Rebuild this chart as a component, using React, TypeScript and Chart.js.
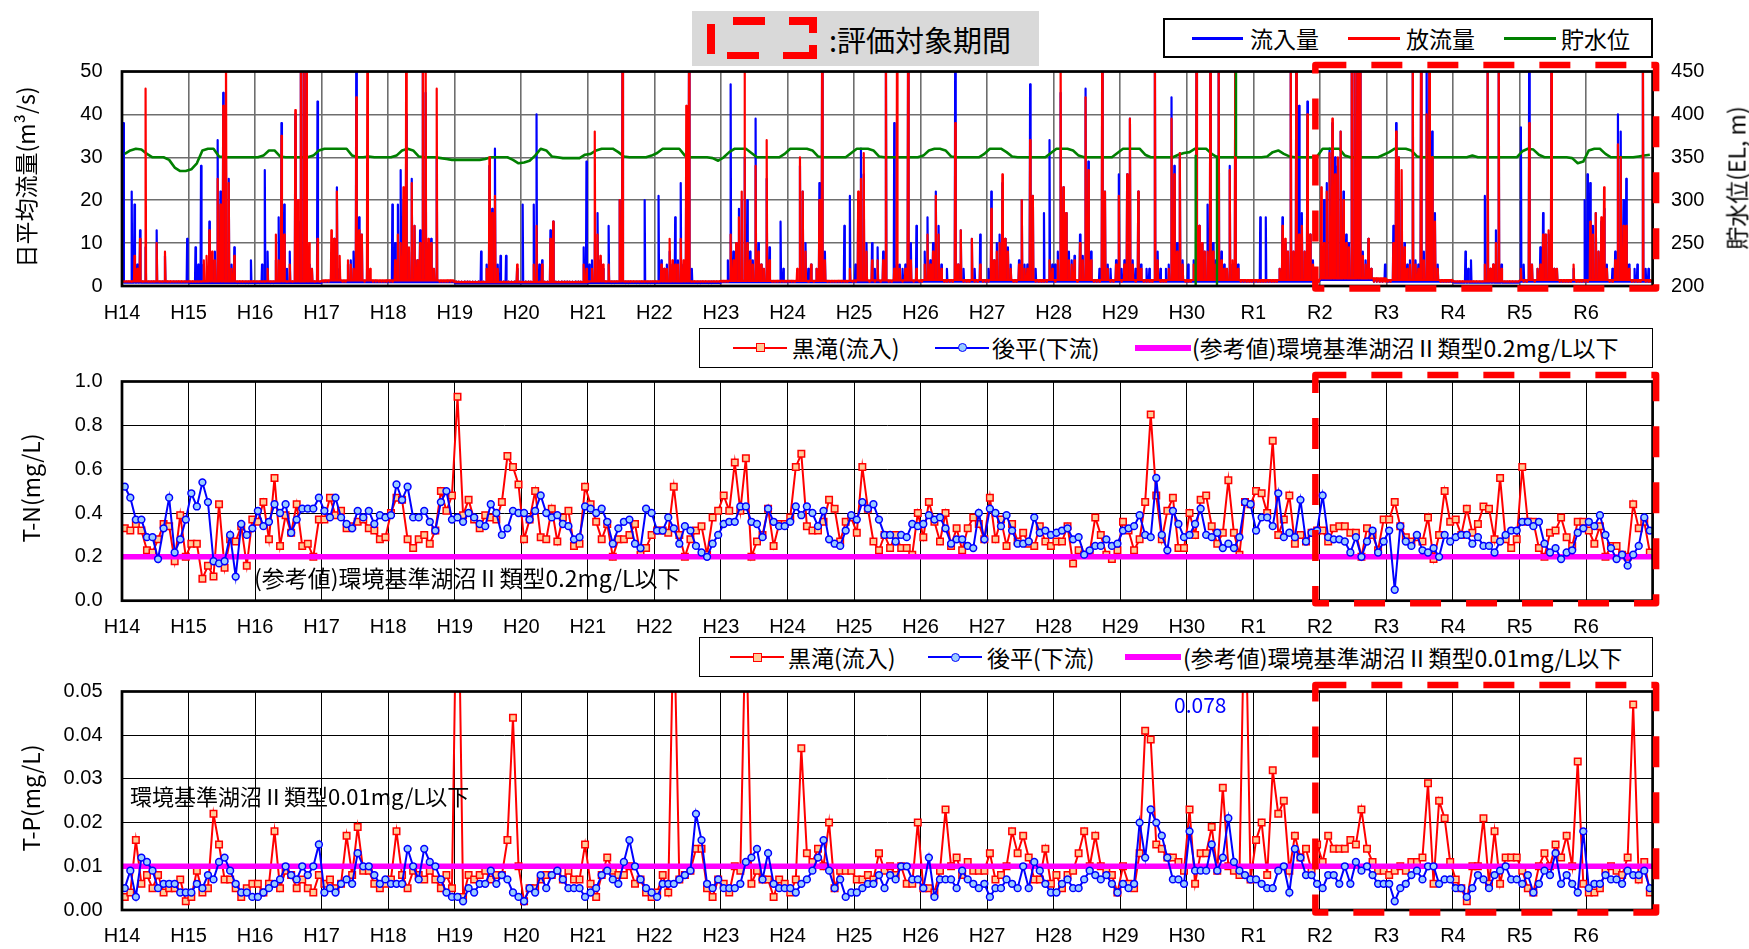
import React, { useEffect, useRef } from "react";
import { Chart, registerables } from "chart.js";

Chart.register(...registerables);

// ---------------- DATA ----------------
const yearLabels = ["H14","H15","H16","H17","H18","H19","H20","H21","H22","H23","H24","H25","H26","H27","H28","H29","H30","R1","R2","R3","R4","R5","R6"];
const evalStartLabel = "R2";

const flowTicks = [0, 10, 20, 30, 40, 50];
const levelTicks = [200, 250, 300, 350, 400, 450];
const tnTicks = [0, 0.2, 0.4, 0.6, 0.8, 1.0];
const tpTicks = [0, 0.01, 0.02, 0.03, 0.04, 0.05];

// daily mean inflow (m3/s): peak of each half-month, per fiscal year
const inflowByYear = [
  [38,1,1,22,19,5,13,1,9,1,1,1,13,1,1,7,1,1,1,1,1,1,1,11],
  [1,1,9,5,28,5,1,15,6,8,34,22,45,30,25,5,9,1,1,1,1,1,6,1],
  [1,1,5,27,8,1,1,6,16,38,19,4,8,1,40,15,60,55,60,5,4,1,43,1],
  [1,1,1,6,11,23,4,1,1,5,6,8,60,16,12,1,10,1,1,1,1,1,1,1],
  [1,19,10,19,27,20,40,8,25,14,6,13,60,45,10,11,4,30,1,1,1,1,1,1],
  [1,1,1,1,1,1,1,1,1,8,1,5,28,18,32,5,7,1,7,1,1,1,4,1],
  [19,1,1,1,19,40,5,6,1,1,13,15,1,1,1,1,1,1,1,1,1,1,9,29],
  [5,6,10,17,6,4,1,14,1,1,1,20,60,1,1,1,1,1,1,1,20,1,1,1],
  [1,21,6,4,5,8,5,16,6,24,5,30,60,4,1,1,1,1,1,1,1,1,1,1],
  [1,1,6,47,8,10,18,20,30,20,8,6,39,10,5,4,25,9,1,1,1,15,4,1],
  [1,1,1,1,28,22,10,4,5,1,4,24,60,8,1,1,1,1,1,1,14,1,21,1],
  [5,20,32,26,10,1,10,4,9,1,8,55,1,1,38,5,5,4,5,60,10,1,14,1],
  [1,8,16,6,10,22,14,5,1,4,1,1,60,5,13,4,1,1,11,4,1,12,1,1],
  [4,22,6,10,12,24,11,9,5,1,1,6,20,5,5,47,21,4,1,1,17,1,34,5],
  [5,8,45,23,17,8,6,7,1,12,7,46,29,8,1,1,4,50,22,5,4,1,6,26],
  [4,6,26,39,6,4,22,5,1,4,4,1,60,8,4,1,4,5,44,28,10,31,6,1],
  [5,1,6,55,14,10,8,19,60,10,6,60,8,5,4,28,5,60,5,1,1,1,1,1],
  [1,1,16,1,16,1,1,1,1,4,16,10,8,55,8,60,42,17,8,43,12,6,4,1],
  [4,20,24,32,38,30,28,36,22,12,10,60,60,60,60,8,6,11,4,1,1,1,1,5],
  [1,1,14,38,30,20,10,5,6,55,6,5,60,8,60,60,36,17,5,1,1,1,1,1],
  [1,1,1,1,8,4,6,1,1,1,1,21,55,4,5,13,55,5,1,1,1,1,1,1],
  [37,5,1,60,5,1,4,9,17,12,12,55,4,4,1,1,1,1,1,4,1,1,1,20],
  [26,24,14,17,8,15,18,5,1,4,8,40,36,20,25,5,1,4,5,1,55,4,4,1],
];
// low-flow (base) level of the inflow between events, per fiscal year
const inflowBase = [0.8,0.7,0.7,0.9,0.9,0.6,0.6,0.7,0.7,0.9,0.9,0.9,1.0,1.0,1.0,1.0,1.0,1.0,1.4,1.0,0.8,1.0,1.0];

// daily mean outflow (m3/s): peak of each half-month
const outflowByYear = [
  [1,1,1,1,7,4,11,1,46,1,1,1,10,1,1,8,1,1,1,1,1,1,1,1],
  [1,1,1,1,1,6,7,13,8,6,25,19,42,60,24,4,7,1,1,1,1,1,1,1],
  [1,1,1,1,4,1,1,12,6,35,12,1,5,1,41,20,60,60,60,10,4,1,11,1],
  [1,1,1,13,11,22,7,1,1,6,5,4,44,13,12,1,60,4,1,1,1,1,1,1],
  [1,1,6,12,10,23,60,9,24,14,6,10,60,60,11,10,4,46,1,1,1,1,1,1],
  [1,1,1,1,1,1,1,1,1,1,1,4,30,17,21,4,1,1,1,1,1,1,5,1],
  [1,1,1,1,5,14,1,5,1,1,11,15,1,1,1,1,1,1,1,1,1,1,5,4],
  [1,4,36,12,7,5,1,5,1,1,1,20,60,1,1,1,1,1,1,1,1,1,1,1],
  [1,1,5,4,4,11,6,5,5,11,6,42,60,1,1,1,1,1,1,1,1,1,1,1],
  [1,1,1,12,6,10,16,22,60,10,6,5,28,8,5,4,34,6,1,1,1,1,1,1],
  [1,1,1,4,30,22,8,1,5,1,4,20,60,6,1,1,1,1,1,1,1,1,4,1],
  [1,22,25,31,8,1,6,1,6,1,6,60,1,1,4,60,4,1,4,60,6,1,4,1],
  [1,5,12,5,8,21,12,4,1,1,1,1,38,5,13,1,1,1,11,1,1,5,1,1],
  [1,18,6,8,10,26,11,8,4,1,1,5,20,4,4,34,21,1,1,1,1,1,6,4],
  [1,6,60,23,17,6,5,6,1,10,6,44,27,6,1,1,1,60,22,4,1,1,5,21],
  [1,5,26,39,5,1,22,4,1,1,1,1,60,6,1,1,1,4,39,26,8,31,5,1],
  [1,1,5,60,14,10,8,8,60,8,5,60,6,4,4,27,6,60,4,1,1,1,1,1],
  [1,1,1,1,1,1,1,1,1,4,14,11,8,60,8,60,12,14,8,40,12,5,1,1],
  [23,10,22,31,39,26,30,36,20,10,9,60,60,60,60,7,5,11,4,1,1,1,1,1],
  [1,1,10,36,30,27,9,4,5,60,5,4,60,6,40,60,30,15,4,1,1,1,1,1],
  [1,1,1,1,1,1,1,1,1,1,1,5,60,4,5,10,60,4,1,1,1,1,1,1],
  [4,1,1,38,5,1,4,5,12,12,13,60,4,4,1,1,1,1,1,5,1,1,1,1],
  [1,15,12,17,8,16,23,4,1,1,6,33,30,14,14,4,1,1,1,1,60,1,1,1],
];
// low-flow (base) level of the outflow between events, per fiscal year
const outflowBase = [1.1,1.1,1.1,1.3,1.3,0.9,0.9,1.1,1.1,1.2,1.2,1.3,1.4,1.4,1.4,1.4,1.4,1.4,1.8,1.4,1.1,1.4,1.4];

// reservoir water level (EL.m), monthly Apr..Mar
const levelByYear = [
  [354,358,360,359,354,350,350,350,347,338,334,334],
  [336,343,358,360,360,351,350,350,350,350,350,350],
  [350,352,358,358,351,350,350,350,350,350,352,358],
  [360,360,360,360,360,352,350,350,351,350,350,350],
  [350,352,358,360,358,351,350,350,350,349,348,347],
  [347,347,347,347,347,348,350,350,350,350,347,343],
  [344,346,352,360,358,351,350,349,349,349,349,353],
  [354,358,360,360,360,356,351,350,350,350,350,352],
  [355,360,360,360,360,352,350,350,350,350,349,346],
  [350,356,360,360,360,355,350,350,350,350,350,354],
  [360,360,360,360,358,351,350,350,350,350,350,355],
  [360,360,360,358,351,350,350,350,350,350,350,350],
  [352,358,360,360,358,351,350,350,350,350,350,354],
  [360,360,360,356,351,350,350,350,350,350,350,355],
  [360,360,360,358,352,350,350,350,350,350,350,355],
  [360,360,360,360,353,350,350,350,350,350,353,355],
  [356,360,360,360,354,350,350,350,350,350,350,350],
  [350,350,351,356,358,354,351,350,350,350,350,351],
  [360,360,360,360,352,350,350,350,350,350,350,353],
  [356,360,360,360,358,351,350,350,350,350,350,350],
  [350,350,350,352,350,350,350,350,350,350,350,350],
  [357,360,359,353,350,350,350,350,350,349,343,345],
  [358,360,360,354,350,350,350,350,350,351,352,353],
];
// single-day recording glitches of the water level: time (years from H14), level before, glitch value
const levelGlitchTime = [16.134, 16.454, 16.74];
const levelGlitchBase = [352, 351, 351];
const levelGlitchValue = [195, 195, 460];

// T-N (mg/L), monthly
const tnKurotaki = [
  [0.33,0.32,0.35,0.32,0.23,0.22,0.28,0.35,0.34,0.18,0.39,0.20],
  [0.26,0.26,0.10,0.16,0.11,0.44,0.15,0.28,0.27,0.34,0.16,0.37],
  [0.36,0.45,0.28,0.56,0.25,0.39,0.31,0.44,0.25,0.26,0.20,0.37],
  [0.37,0.47,0.39,0.41,0.33,0.34,0.36,0.37,0.33,0.32,0.28,0.29],
  [0.40,0.47,0.46,0.28,0.24,0.28,0.30,0.26,0.32,0.50,0.41,0.48],
  [0.93,0.39,0.46,0.37,0.33,0.39,0.38,0.37,0.45,0.66,0.61,0.53],
  [0.28,0.37,0.50,0.29,0.28,0.42,0.27,0.38,0.41,0.25,0.26,0.52],
  [0.44,0.36,0.28,0.35,0.20,0.28,0.28,0.30,0.35,0.21,0.24,0.30],
  [0.32,0.32,0.31,0.52,0.30,0.20,0.28,0.32,0.34,0.21,0.38,0.41],
  [0.48,0.41,0.63,0.41,0.65,0.20,0.27,0.30,0.42,0.25,0.35,0.35],
  [0.38,0.61,0.67,0.34,0.32,0.32,0.36,0.46,0.42,0.27,0.36,0.38],
  [0.31,0.61,0.42,0.27,0.23,0.30,0.24,0.30,0.24,0.24,0.21,0.40],
  [0.29,0.45,0.36,0.27,0.40,0.25,0.33,0.23,0.33,0.38,0.35,0.28],
  [0.47,0.28,0.37,0.25,0.35,0.27,0.31,0.26,0.25,0.34,0.27,0.25],
  [0.27,0.27,0.34,0.17,0.23,0.21,0.22,0.38,0.30,0.21,0.19,0.23],
  [0.36,0.32,0.23,0.28,0.45,0.85,0.48,0.28,0.41,0.47,0.24,0.24],
  [0.40,0.30,0.46,0.48,0.34,0.26,0.31,0.55,0.31,0.21,0.45,0.44],
  [0.50,0.49,0.40,0.73,0.30,0.37,0.48,0.26,0.30,0.27,0.31,0.32],
  [0.32,0.27,0.33,0.34,0.34,0.31,0.31,0.20,0.33,0.30,0.23,0.37],
  [0.37,0.45,0.34,0.29,0.27,0.29,0.27,0.38,0.19,0.30,0.50,0.36],
  [0.37,0.30,0.42,0.31,0.35,0.43,0.42,0.28,0.56,0.28,0.24,0.28],
  [0.61,0.36,0.36,0.24,0.20,0.31,0.32,0.38,0.29,0.25,0.36,0.36],
  [0.32,0.26,0.34,0.20,0.25,0.25,0.21,0.20,0.44,0.33,0.36,0.22],
];
const tnGohei = [
  [0.52,0.47,0.37,0.37,0.29,0.29,0.19,0.33,0.47,0.22,0.28,0.37],
  [0.49,0.43,0.54,0.45,0.18,0.17,0.18,0.30,0.11,0.35,0.30,0.33],
  [0.41,0.34,0.36,0.44,0.40,0.44,0.31,0.37,0.42,0.42,0.42,0.47],
  [0.41,0.38,0.47,0.38,0.35,0.33,0.41,0.38,0.41,0.35,0.39,0.38],
  [0.39,0.53,0.46,0.52,0.38,0.38,0.41,0.36,0.32,0.45,0.50,0.37],
  [0.38,0.36,0.40,0.38,0.35,0.34,0.44,0.40,0.30,0.33,0.41,0.40],
  [0.40,0.37,0.41,0.48,0.40,0.38,0.39,0.35,0.34,0.28,0.29,0.43],
  [0.42,0.40,0.42,0.36,0.26,0.33,0.36,0.37,0.26,0.24,0.42,0.40],
  [0.32,0.32,0.38,0.33,0.26,0.34,0.32,0.25,0.22,0.20,0.26,0.30],
  [0.35,0.36,0.36,0.43,0.43,0.36,0.35,0.29,0.42,0.36,0.34,0.34],
  [0.36,0.43,0.39,0.43,0.40,0.34,0.41,0.28,0.26,0.25,0.32,0.39],
  [0.37,0.45,0.42,0.44,0.37,0.30,0.30,0.27,0.30,0.29,0.35,0.34],
  [0.35,0.39,0.37,0.38,0.33,0.26,0.28,0.28,0.25,0.24,0.40,0.28],
  [0.42,0.40,0.34,0.39,0.32,0.26,0.26,0.27,0.38,0.31,0.32,0.30],
  [0.31,0.32,0.33,0.28,0.29,0.21,0.23,0.25,0.25,0.28,0.25,0.26],
  [0.32,0.33,0.34,0.39,0.30,0.29,0.56,0.30,0.23,0.41,0.35,0.29],
  [0.30,0.35,0.42,0.30,0.29,0.31,0.24,0.26,0.24,0.29,0.45,0.44],
  [0.32,0.38,0.38,0.34,0.49,0.29,0.31,0.29,0.46,0.27,0.31,0.32],
  [0.48,0.29,0.28,0.28,0.27,0.22,0.29,0.20,0.27,0.32,0.22,0.27],
  [0.32,0.05,0.34,0.27,0.25,0.30,0.23,0.22,0.24,0.20,0.30,0.27],
  [0.29,0.30,0.30,0.26,0.29,0.25,0.25,0.22,0.27,0.30,0.32,0.32],
  [0.36,0.36,0.34,0.36,0.26,0.22,0.24,0.19,0.22,0.23,0.31,0.33],
  [0.36,0.34,0.39,0.30,0.24,0.19,0.21,0.16,0.21,0.25,0.38,0.32],
];

// T-P (mg/L), monthly
const tpKurotaki = [
  [0.003,0.004,0.016,0.006,0.008,0.005,0.008,0.004,0.005,0.005,0.007,0.002],
  [0.003,0.009,0.004,0.005,0.022,0.015,0.007,0.007,0.005,0.003,0.005,0.006],
  [0.006,0.004,0.006,0.018,0.005,0.009,0.008,0.005,0.007,0.005,0.004,0.008],
  [0.006,0.007,0.005,0.006,0.017,0.008,0.019,0.009,0.009,0.006,0.005,0.006],
  [0.007,0.018,0.008,0.005,0.009,0.008,0.007,0.009,0.007,0.005,0.008,0.005],
  [0.090,0.003,0.008,0.007,0.008,0.009,0.007,0.008,0.008,0.016,0.044,0.010],
  [0.002,0.005,0.005,0.007,0.008,0.008,0.009,0.007,0.009,0.007,0.007,0.015],
  [0.006,0.003,0.008,0.012,0.009,0.008,0.008,0.010,0.006,0.007,0.004,0.003],
  [0.004,0.008,0.004,0.070,0.007,0.008,0.009,0.014,0.014,0.005,0.003,0.007],
  [0.006,0.004,0.010,0.009,0.070,0.006,0.009,0.007,0.007,0.003,0.007,0.006],
  [0.004,0.007,0.037,0.013,0.011,0.014,0.010,0.020,0.005,0.009,0.009,0.009],
  [0.007,0.007,0.008,0.007,0.013,0.009,0.010,0.008,0.010,0.006,0.006,0.020],
  [0.005,0.005,0.004,0.009,0.023,0.010,0.012,0.008,0.011,0.009,0.009,0.009],
  [0.013,0.007,0.008,0.010,0.018,0.013,0.017,0.012,0.007,0.007,0.014,0.006],
  [0.008,0.005,0.008,0.009,0.013,0.018,0.010,0.017,0.010,0.009,0.008,0.004],
  [0.010,0.006,0.005,0.013,0.041,0.039,0.015,0.014,0.012,0.012,0.011,0.009],
  [0.023,0.006,0.013,0.013,0.019,0.009,0.028,0.010,0.009,0.008,0.078,0.007],
  [0.016,0.020,0.008,0.032,0.022,0.025,0.009,0.017,0.012,0.014,0.009,0.015],
  [0.011,0.017,0.014,0.014,0.014,0.016,0.015,0.023,0.014,0.011,0.009,0.009],
  [0.008,0.009,0.010,0.009,0.011,0.011,0.012,0.029,0.006,0.025,0.021,0.011],
  [0.007,0.005,0.002,0.010,0.010,0.021,0.006,0.018,0.006,0.012,0.012,0.012],
  [0.009,0.005,0.004,0.010,0.013,0.010,0.015,0.012,0.017,0.010,0.034,0.006],
  [0.004,0.004,0.005,0.009,0.010,0.009,0.008,0.012,0.047,0.007,0.011,0.004],
];
const tpGohei = [
  [0.005,0.009,0.003,0.012,0.011,0.009,0.005,0.006,0.006,0.006,0.004,0.004],
  [0.004,0.006,0.005,0.008,0.007,0.011,0.012,0.009,0.006,0.004,0.004,0.003],
  [0.003,0.004,0.005,0.006,0.007,0.010,0.008,0.007,0.010,0.008,0.010,0.015],
  [0.004,0.005,0.004,0.006,0.007,0.006,0.013,0.010,0.010,0.008,0.006,0.007],
  [0.006,0.006,0.006,0.014,0.010,0.007,0.014,0.011,0.010,0.007,0.004,0.003],
  [0.003,0.002,0.005,0.004,0.006,0.006,0.009,0.006,0.008,0.007,0.004,0.003],
  [0.002,0.005,0.004,0.008,0.005,0.008,0.009,0.007,0.005,0.005,0.005,0.003],
  [0.004,0.005,0.008,0.009,0.007,0.006,0.011,0.016,0.010,0.007,0.005,0.004],
  [0.003,0.006,0.006,0.006,0.007,0.008,0.009,0.022,0.016,0.006,0.005,0.007],
  [0.005,0.005,0.005,0.006,0.011,0.012,0.014,0.007,0.013,0.006,0.005,0.005],
  [0.005,0.004,0.006,0.007,0.009,0.012,0.016,0.009,0.005,0.007,0.003,0.004],
  [0.004,0.005,0.006,0.006,0.008,0.005,0.008,0.007,0.010,0.010,0.007,0.007],
  [0.005,0.012,0.003,0.007,0.007,0.007,0.005,0.009,0.007,0.006,0.005,0.006],
  [0.003,0.005,0.005,0.007,0.006,0.005,0.010,0.005,0.011,0.009,0.006,0.004],
  [0.004,0.006,0.007,0.005,0.005,0.007,0.009,0.008,0.007,0.008,0.006,0.004],
  [0.006,0.005,0.006,0.020,0.012,0.023,0.020,0.017,0.012,0.007,0.007,0.006],
  [0.018,0.009,0.009,0.009,0.015,0.009,0.012,0.021,0.011,0.009,0.008,0.007],
  [0.007,0.006,0.005,0.005,0.009,0.010,0.004,0.014,0.012,0.008,0.008,0.006],
  [0.005,0.008,0.008,0.006,0.010,0.006,0.011,0.009,0.010,0.008,0.006,0.006],
  [0.006,0.002,0.005,0.006,0.008,0.009,0.007,0.010,0.010,0.006,0.007,0.007],
  [0.005,0.005,0.003,0.005,0.008,0.007,0.005,0.008,0.009,0.010,0.007,0.007],
  [0.006,0.008,0.004,0.006,0.009,0.008,0.013,0.006,0.008,0.006,0.004,0.018],
  [0.005,0.006,0.006,0.008,0.007,0.007,0.006,0.009,0.008,0.008,0.009,0.005],
];

const tnStandard = 0.2;
const tpStandard = 0.01;
const tpNote = "0.078";

// ---------------- LAYOUT / STYLE ----------------
const W = 1749;
const JP = '"Noto Sans CJK JP", "Noto Sans", sans-serif';
const NUM = '"Liberation Sans", Arial, sans-serif';
const RED = "#FF0000";
const BLUE = "#0000FF";
const GREEN = "#008000";
const MAGENTA = "#FF00FF";
const RED_FILL = "#FFCC99";
const BLUE_FILL = "#99CCFF";

const PLOT_LEFT = 122;
const PLOT_RIGHT = 1652.6;
const EVENT_HALF_WIDTH = 0.18; // flood-event duration around each half-month peak (fraction of a half-month)

function yearPts(rows: number[][], perYear: number) {
  const out: { x: number; y: number }[] = [];
  rows.forEach((row, yi) => row.forEach((v, i) => out.push({ x: yi + (i + 0.5) / perYear, y: v })));
  return out;
}

// half-month peaks (short events) standing on the base (low-flow) reading of that year
function flowPts(rows: number[][], bases: number[]) {
  const out: { x: number; y: number }[] = [];
  rows.forEach((row, yi) => {
    const n = row.length;
    row.forEach((v, i) => {
      out.push({ x: yi + (i + 0.5 - EVENT_HALF_WIDTH) / n, y: bases[yi] });
      out.push({ x: yi + (i + 0.5) / n, y: v });
      out.push({ x: yi + (i + 0.5 + EVENT_HALF_WIDTH) / n, y: bases[yi] });
    });
  });
  return out;
}

const framePlugin = {
  id: "frame",
  afterDatasetsDraw(chart: any) {
    const { ctx, chartArea: a } = chart;
    ctx.save();
    ctx.strokeStyle = "#000";
    ctx.lineWidth = 2.7;
    ctx.strokeRect(a.left, a.top, a.right - a.left, a.bottom - a.top);
    ctx.restore();
  },
  afterDraw(chart: any, _args: any, opts: any) {
    if (!opts || opts.start == null) return;
    const { ctx, chartArea: a, scales } = chart;
    const xL = scales.x.getPixelForValue(opts.start) - 4.5;
    const xR = a.right + 3.5;
    const yT = a.top - 6.5;
    const yB = a.bottom + 2.5;
    ctx.save();
    ctx.strokeStyle = RED;
    ctx.lineWidth = 6.5;
    ctx.lineJoin = "round";
    ctx.setLineDash([31, 25]);
    ctx.beginPath();
    ctx.moveTo(xL, yT);
    ctx.lineTo(xR, yT);
    ctx.lineTo(xR, yB);
    ctx.lineTo(xL, yB);
    ctx.closePath();
    ctx.stroke();
    ctx.restore();
  },
};

function xAxis(xH: number, gridColor: string, gridW: number, pad: number) {
  return {
    type: "linear",
    min: 0,
    max: yearLabels.length,
    afterBuildTicks: (s: any) => {
      s.ticks = yearLabels.map((_, i) => ({ value: i })).concat([{ value: yearLabels.length }]);
    },
    afterFit: (s: any) => { s.height = xH; },
    ticks: {
      autoSkip: false, maxRotation: 0, minRotation: 0, padding: pad, color: "#000",
      font: { family: NUM, size: 20 },
      callback: (v: number) => yearLabels[Math.round(v)] ?? "",
    },
    grid: { color: gridColor, lineWidth: gridW, drawTicks: false },
    border: { display: false },
  };
}

function yAxis(ticks: number[], digits: number, position: string, width: number, gridColor: string, gridW: number, showGrid: boolean) {
  return {
    type: "linear",
    position,
    min: ticks[0],
    max: ticks[ticks.length - 1],
    afterBuildTicks: (s: any) => { s.ticks = ticks.map((v) => ({ value: v })); },
    afterFit: (s: any) => { s.width = width; },
    ticks: {
      padding: position === "left" ? 19.5 : 18.5, color: "#000",
      font: { family: NUM, size: 20 },
      callback: (v: number) => Number(v).toFixed(digits),
    },
    grid: { display: showGrid, color: gridColor, lineWidth: gridW, drawTicks: false },
    border: { display: false },
  };
}

const baseOptions = (padTop: number, padRight: number) => ({
  responsive: false,
  maintainAspectRatio: false,
  animation: false,
  devicePixelRatio: 1,
  events: [],
  layout: { autoPadding: false, padding: { top: padTop, left: 0, right: padRight, bottom: 0 } },
});

function ChartCanvas({ top, height, build }: { top: number; height: number; build: () => any }) {
  const ref = useRef<HTMLCanvasElement | null>(null);
  useEffect(() => {
    const ctx = ref.current!.getContext("2d")!;
    const chart = new Chart(ctx, build());
    return () => chart.destroy();
  }, []);
  return (
    <canvas ref={ref} width={W} height={height}
      style={{ position: "absolute", left: 0, top, width: W, height, display: "block" }} />
  );
}

// ---- chart configs ----
const TOP = { canvasTop: 40, height: 300, plotTop: 70.5, plotBottom: 286 };
const MID = { canvasTop: 350, height: 300, plotTop: 380.5, plotBottom: 600.7 };
const BOT = { canvasTop: 660, height: 289, plotTop: 690.5, plotBottom: 910 };
const evalStart = yearLabels.indexOf(evalStartLabel);

function flowConfig() {
  const glitchPts: any[] = [];
  levelGlitchTime.forEach((t, i) => {
    glitchPts.push({ x: t, y: levelGlitchBase[i] }, { x: t, y: levelGlitchValue[i] }, { x: t, y: null });
  });
  const line = { pointRadius: 0, tension: 0, fill: false, borderJoinStyle: "round" };
  return {
    type: "line",
    data: {
      datasets: [
        { ...line, label: "貯水位(欠測)", data: glitchPts, borderColor: GREEN, borderWidth: 2.4, yAxisID: "y2", order: -1, spanGaps: false },
        { ...line, label: "放流量", data: flowPts(outflowByYear, outflowBase), borderColor: RED, borderWidth: 2.2, yAxisID: "y", order: 0 },
        { ...line, label: "貯水位", data: yearPts(levelByYear, 12), borderColor: GREEN, borderWidth: 2.6, yAxisID: "y2", order: 1 },
        { ...line, label: "流入量", data: flowPts(inflowByYear, inflowBase), borderColor: BLUE, borderWidth: 2.2, yAxisID: "y", order: 2 },
      ],
    },
    options: {
      ...baseOptions(TOP.plotTop - TOP.canvasTop, 0),
      scales: {
        x: xAxis(TOP.canvasTop + TOP.height - TOP.plotBottom, "#6e6e6e", 1.6, 15),
        y: yAxis(flowTicks, 0, "left", PLOT_LEFT, "#6e6e6e", 1.6, true),
        y2: yAxis(levelTicks, 0, "right", W - PLOT_RIGHT, "#6e6e6e", 1.6, false),
      },
      plugins: { legend: { display: false }, tooltip: { enabled: false }, frame: { start: evalStart } },
    },
    plugins: [framePlugin],
  };
}

function qualityConfig(g: any, red: number[][], blue: number[][], standard: number, ticks: number[], digits: number) {
  return () => ({
    type: "line",
    data: {
      datasets: [
        {
          label: "後平(下流)", data: yearPts(blue, 12), borderColor: BLUE, borderWidth: 2, tension: 0,
          pointStyle: "circle", pointRadius: 3.4, pointBackgroundColor: BLUE_FILL, pointBorderColor: BLUE,
          pointBorderWidth: 1.5, order: 0,
        },
        {
          label: "環境基準", data: [{ x: 0, y: standard }, { x: yearLabels.length, y: standard }],
          borderColor: MAGENTA, borderWidth: 5.5, pointRadius: 0, order: 1,
        },
        {
          label: "黒滝(流入)", data: yearPts(red, 12), borderColor: RED, borderWidth: 2, tension: 0,
          pointStyle: "rect", pointRadius: 4.6, pointBackgroundColor: RED_FILL, pointBorderColor: RED,
          pointBorderWidth: 1.5, order: 2,
        },
      ],
    },
    options: {
      ...baseOptions(g.plotTop - g.canvasTop, W - PLOT_RIGHT),
      scales: {
        x: xAxis(g.canvasTop + g.height - g.plotBottom, "#000", 1, 14.5),
        y: yAxis(ticks, digits, "left", PLOT_LEFT, "#000", 1, true),
      },
      plugins: { legend: { display: false }, tooltip: { enabled: false }, frame: { start: evalStart } },
    },
    plugins: [framePlugin],
  });
}

// ---- HTML helpers ----
const abs = (s: any) => ({ position: "absolute" as const, ...s });

function Txt({ x, cy, size, children, color = "#000", family = JP }: any) {
  const h = size * 1.6;
  return (
    <div style={abs({ left: x, top: cy - h / 2, height: h, lineHeight: `${h}px`, fontSize: size, fontFamily: family, color, whiteSpace: "nowrap" })}>
      {children}
    </div>
  );
}

function VTxt({ cx, cy, size, children }: any) {
  return (
    <div style={abs({ left: cx, top: cy, transform: "translate(-50%, -50%) rotate(-90deg)", fontSize: size, fontFamily: JP, color: "#000", whiteSpace: "nowrap", lineHeight: 1 })}>
      {children}
    </div>
  );
}

function Bar({ x, y, w, h, color }: any) {
  return <div style={abs({ left: x, top: y, width: w, height: h, background: color })} />;
}

function QualityLegend({ top, h, redLine, redText, blueLine, blueText, magLine, magText, text }: any) {
  const cy = top + h / 2;
  return (
    <>
      <div style={abs({ left: 699, top, width: PLOT_RIGHT - 699, height: h, border: "1.5px solid #000", background: "#fff", boxSizing: "border-box" })} />
      <Bar x={redLine} y={cy - 1.25} w={54} h={2.5} color={RED} />
      <div style={abs({ left: redLine + 27 - 4.5, top: cy - 4.5, width: 9, height: 9, background: RED_FILL, border: `1.5px solid ${RED}`, boxSizing: "border-box" })} />
      <Txt x={redText} cy={cy} size={23}>黒滝(流入)</Txt>
      <Bar x={blueLine} y={cy - 1.25} w={54} h={2.5} color={BLUE} />
      <div style={abs({ left: blueLine + 27 - 4.5, top: cy - 4.5, width: 9, height: 9, background: BLUE_FILL, border: `1.5px solid ${BLUE}`, borderRadius: "50%", boxSizing: "border-box" })} />
      <Txt x={blueText} cy={cy} size={23}>後平(下流)</Txt>
      <Bar x={magLine} y={cy - 2.75} w={56} h={5.5} color={MAGENTA} />
      <Txt x={magText} cy={cy} size={23}>{text}</Txt>
    </>
  );
}

export default function App() {
  return (
    <div style={abs({ left: 0, top: 0, width: W, height: 949, background: "#fff", overflow: "hidden" })}>
      <ChartCanvas top={TOP.canvasTop} height={TOP.height} build={flowConfig} />
      <ChartCanvas top={MID.canvasTop} height={MID.height} build={qualityConfig(MID, tnKurotaki, tnGohei, tnStandard, tnTicks, 1)} />
      <ChartCanvas top={BOT.canvasTop} height={BOT.height} build={qualityConfig(BOT, tpKurotaki, tpGohei, tpStandard, tpTicks, 2)} />

      {/* title box: evaluation period */}
      <div style={abs({ left: 692, top: 11, width: 347, height: 55, background: "#D9D9D9" })} />
      <Bar x={707} y={24} w={8} h={30} color={RED} />
      <Bar x={733} y={17} w={32} h={8} color={RED} />
      <Bar x={727} y={52} w={32} h={7} color={RED} />
      <Bar x={789} y={17} w={28} h={8} color={RED} />
      <Bar x={809} y={17} w={8} h={16} color={RED} />
      <Bar x={783} y={52} w={34} h={7} color={RED} />
      <Bar x={809} y={45} w={8} h={14} color={RED} />
      <Txt x={829} cy={39.5} size={29}>:評価対象期間</Txt>

      {/* top legend */}
      <div style={abs({ left: 1163, top: 18, width: PLOT_RIGHT - 1163, height: 40, border: "2px solid #000", background: "#fff", boxSizing: "border-box" })} />
      <Bar x={1192} y={36.5} w={51} h={3} color={BLUE} />
      <Txt x={1250} cy={38} size={23}>流入量</Txt>
      <Bar x={1348} y={36.5} w={52} h={3} color={RED} />
      <Txt x={1406} cy={38} size={23}>放流量</Txt>
      <Bar x={1504} y={36.5} w={52} h={3} color={GREEN} />
      <Txt x={1561} cy={38} size={23}>貯水位</Txt>

      {/* axis titles */}
      <VTxt cx={25} cy={177} size={23}>日平均流量(m³/s)</VTxt>
      <VTxt cx={1736} cy={178} size={23}>貯水位(EL, m)</VTxt>
      <VTxt cx={30} cy={488} size={23}>T-N(mg/L)</VTxt>
      <VTxt cx={30} cy={798} size={23}>T-P(mg/L)</VTxt>

      {/* quality legends */}
      <QualityLegend top={328} h={39.5} redLine={733} redText={792} blueLine={935} blueText={992} magLine={1135} magText={1192}
        text="(参考値)環境基準湖沼Ⅱ類型0.2mg/L以下" />
      <QualityLegend top={637} h={40} redLine={730} redText={788} blueLine={928} blueText={987} magLine={1125} magText={1183}
        text="(参考値)環境基準湖沼Ⅱ類型0.01mg/L以下" />

      {/* in-plot annotations */}
      <Txt x={254} cy={577} size={23}>(参考値)環境基準湖沼Ⅱ類型0.2mg/L以下</Txt>
      <Txt x={130} cy={796} size={22}>環境基準湖沼Ⅱ類型0.01mg/L以下</Txt>
      <Txt x={1174} cy={705} size={21} color={BLUE}>{tpNote}</Txt>
    </div>
  );
}
